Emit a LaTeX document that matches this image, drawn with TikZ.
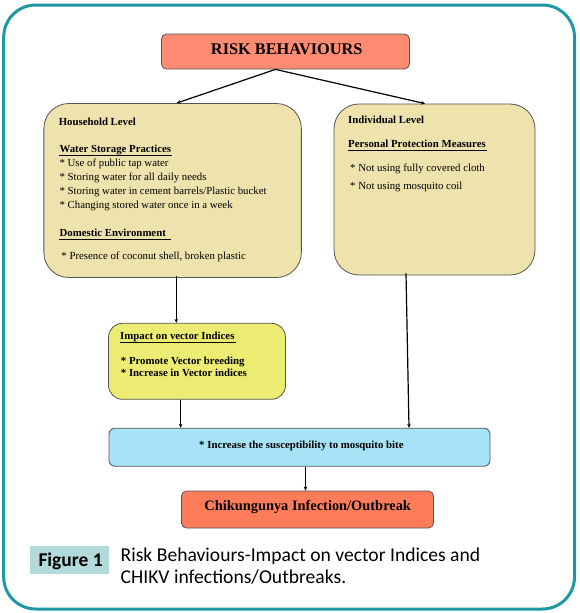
\documentclass[tikz,border=0pt]{standalone}
\usepackage{fontspec}
\setmainfont{Liberation Serif}
\newfontfamily\capfont{Carlito}
\usetikzlibrary{arrows.meta}
\definecolor{riskfill}{HTML}{FF8C72}
\definecolor{chikfill}{HTML}{FF7C5A}
\definecolor{beige}{HTML}{EFE3AD}
\definecolor{yel}{HTML}{ECEC72}
\definecolor{lblue}{HTML}{A6E3F7}
\definecolor{figfill}{HTML}{B2DADB}
\definecolor{frameteal}{HTML}{1D98A5}
\definecolor{boxgray}{HTML}{555555}
\begin{document}
\begin{tikzpicture}[x=1pt,y=-1pt,
  box/.style={draw=boxgray,line width=0.8pt,inner sep=0pt,anchor=center},
  txt/.style={inner sep=0pt,anchor=base west,font=\fontsize{10.8}{12}\selectfont},
  btxt/.style={txt,font=\fontsize{10.8}{12}\selectfont\bfseries},
  uline/.style={line width=0.8pt},
  arr/.style={line width=1.2pt,-{Stealth[length=4pt,width=3.6pt]}}]
\useasboundingbox (0,0) rectangle (579,613);
\fill[white] (0,0) rectangle (579,613);
\draw[frameteal,line width=3pt,rounded corners=32pt] (3.7,5) rectangle (574.5,609);
% boxes
\node[box,fill=riskfill,rounded corners=5pt,minimum width=247.9pt,minimum height=35pt] (risk) at (285.45,51.5) {};
\node[box,fill=beige,rounded corners=25pt,minimum width=257.5pt,minimum height=174pt] (hh) at (172.6,190.5) {};
\node[box,fill=beige,rounded corners=25pt,minimum width=201pt,minimum height=171pt] (ind) at (434.5,189.5) {};
\node[box,fill=yel,rounded corners=14pt,minimum width=177pt,minimum height=76pt] (imp) at (197,361.3) {};
\node[box,fill=lblue,rounded corners=6pt,minimum width=381pt,minimum height=38pt] (blue) at (299.5,447.2) {};
\node[box,fill=chikfill,rounded corners=5pt,minimum width=252pt,minimum height=37pt] (chik) at (307.5,509.5) {};
\node[inner sep=0pt,fill=figfill,minimum width=79.3pt,minimum height=28.5pt] (fig) at (69.65,560.2) {};
% titles
\node[inner sep=0pt,anchor=base,font=\fontsize{16.3}{18}\selectfont\bfseries] (riskt) at (286.7,54.5) {RISK BEHAVIOURS};
\node[inner sep=0pt,anchor=base,font=\fontsize{14.4}{16}\selectfont\bfseries] (chikt) at (307.7,510) {Chikungunya Infection/Outbreak};
\node[btxt,anchor=base] (bluet) at (301.4,448) {* Increase the susceptibility to mosquito bite};
% household
\node[btxt] (hhl) at (58.6,125.7) {Household Level};
\node[btxt] (wsp) at (59.4,152.7) {Water Storage Practices};
\node[txt] (h1) at (59.4,166) {* Use of public tap water};
\node[txt] (h2) at (59.4,180) {* Storing water for all daily needs};
\node[txt] (h3) at (59.4,194) {* Storing water in cement barrels/Plastic bucket};
\node[txt] (h4) at (59.4,208) {* Changing stored water once in a week};
\node[btxt] (de) at (59.4,236.7) {Domestic Environment};
\node[txt] (h5) at (61.2,259.7) {* Presence of coconut shell, broken plastic};
% individual
\node[btxt] (indl) at (348,123.3) {Individual Level};
\node[btxt] (ppm) at (348,147.7) {Personal Protection Measures};
\node[txt] (i1) at (350,171.7) {* Not using fully covered cloth};
\node[txt] (i2) at (350,189) {* Not using mosquito coil};
% impact
\node[btxt] (impl) at (120,339.3) {Impact on vector Indices};
\node[btxt] (m1) at (120.7,364.3) {* Promote Vector breeding};
\node[btxt] (m2) at (120.7,376.3) {* Increase in Vector indices};
% underlines
\draw[uline] ([yshift=-2.6pt]wsp.base west) -- ([yshift=-2.6pt,xshift=1pt]wsp.base east);
\draw[uline] ([yshift=-2.6pt]de.base west) -- ([yshift=-2.6pt,xshift=5pt]de.base east);
\draw[uline] ([yshift=-2.8pt]ppm.base west) -- ([yshift=-2.8pt,xshift=1pt]ppm.base east);
\draw[uline] ([yshift=-2.8pt]impl.base west) -- ([yshift=-2.8pt,xshift=1pt]impl.base east);
% caption
\node[inner sep=0pt,anchor=base west,font=\capfont\fontsize{19.5}{22}\selectfont\bfseries] (figt) at (38.3,566.7) {Figure 1};
\node[inner sep=0pt,anchor=base west,font=\capfont\fontsize{19.6}{22}\selectfont] (cap1) at (120.5,561.7) {Risk Behaviours-Impact on vector Indices and};
\node[inner sep=0pt,anchor=base west,font=\capfont\fontsize{19.6}{22}\selectfont] (cap2) at (120.5,583.5) {CHIKV infections/Outbreaks.};
% connectors
\draw[arr] ([xshift=-10pt]risk.south) -- ([xshift=4pt]hh.north);
\draw[arr] ([xshift=-10pt]risk.south) -- ([xshift=-9.5pt]ind.north);
\draw[arr] ([xshift=3.7pt,yshift=2pt]hh.south) -- ([xshift=-20.7pt]imp.north);
\draw[arr] ([xshift=-28.5pt,yshift=2pt]ind.south) -- ([xshift=109.5pt]blue.north);
\draw[arr] ([xshift=-16.3pt]imp.south) -- ([xshift=-118.8pt]blue.north);
\draw[arr] ([xshift=6pt]blue.south) -- ([xshift=-2pt]chik.north);
\end{tikzpicture}
\end{document}
